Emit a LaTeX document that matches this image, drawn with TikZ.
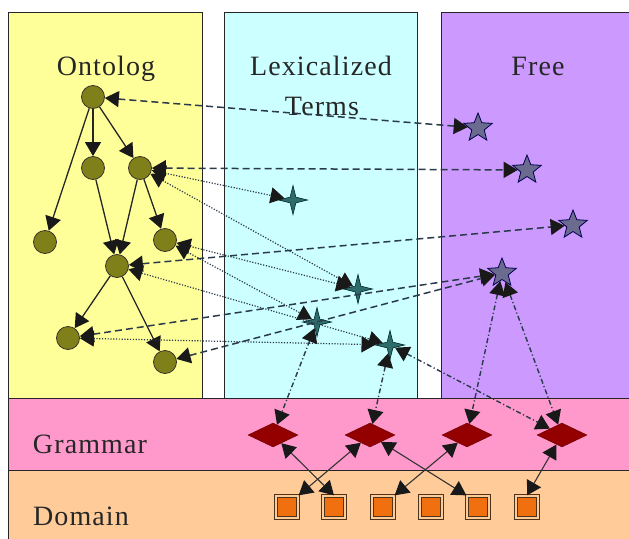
\documentclass[tikz,border=0pt]{standalone}
\usepackage{fontspec}
\newfontfamily\labelfont{Liberation Serif}[LetterSpace=4]
\usetikzlibrary{shapes.geometric,arrows.meta}

\definecolor{ontoyellow}{HTML}{FFFF99}
\definecolor{lexcyan}{HTML}{CCFFFF}
\definecolor{freepurple}{HTML}{CC99FF}
\definecolor{grampink}{HTML}{FF99CC}
\definecolor{dompeach}{HTML}{FFCC99}
\definecolor{conceptfill}{HTML}{80801A}
\definecolor{starfill}{HTML}{6B6B8F}
\definecolor{sparkfill}{HTML}{2E6B6B}
\definecolor{rulefill}{HTML}{940000}
\definecolor{itemfill}{HTML}{F07010}
\definecolor{linkgray}{HTML}{2A3A4A}

\begin{document}
\begin{tikzpicture}[x=1pt, y=-1pt,
  linktip/.tip={Triangle[length=14pt,width=16pt,color=black!90]},
  panel/.style={draw=black!85, line width=1pt},
  label/.style={anchor=base, font=\labelfont\fontsize{28}{30}\selectfont, text=black!85},
  concept/.style={circle, draw=black!80!olive, line width=0.8pt, fill=conceptfill, minimum size=23pt, inner sep=0pt},
  freestar/.style={star, star points=5, star point ratio=2.3, draw=black!70!blue, line width=0.8pt, fill=starfill, minimum size=30pt, inner sep=0pt},
  lexstar/.style={star, star points=4, star point ratio=3.6, draw=black!70!teal, line width=0.6pt, fill=sparkfill, minimum size=29pt, inner sep=0pt},
  rulebox/.style={diamond, aspect=2, draw=rulefill!70!black, fill=rulefill, minimum width=50pt, minimum height=24pt, inner sep=0pt},
  itembox/.style={rectangle, draw=black!60!brown, line width=1.3pt, double=dompeach, double distance=1.4pt, fill=itemfill, minimum size=22pt, inner sep=0pt},
  isa/.style={-linktip, line width=1.3pt, draw=black!85},
  freelink/.style={linktip-linktip, draw=linkgray, line width=1.5pt, dash pattern=on 7pt off 4pt},
  lexlink/.style={linktip-linktip, draw=linkgray, line width=1.2pt, dash pattern=on 1.2pt off 1.6pt},
  gramlink/.style={linktip-linktip, draw=linkgray, line width=1.4pt, dash pattern=on 5pt off 2.5pt on 1.2pt off 2.5pt},
  domlink/.style={linktip-linktip, draw=black!80, line width=1.1pt}]

  \useasboundingbox (0,0) rectangle (629,538);
  \fill[white] (0,0) rectangle (629,538);

  % columns and bands
  \filldraw[panel, fill=ontoyellow] (8,12) rectangle (202,398);
  \filldraw[panel, fill=lexcyan] (224,12) rectangle (417,398);
  \filldraw[panel, fill=freepurple] (441,12) rectangle (632,398);
  \filldraw[panel, fill=grampink] (8,398) rectangle (632,470);
  \filldraw[panel, fill=dompeach] (8,470) rectangle (632,541);

  \node[label] (ontotitle) at (106,75) {Ontolog};
  \node[label] (lextitle) at (321,75) {Lexicalized};
  \node[label] (lexsub) at (322,115) {Terms};
  \node[label] (freetitle) at (538,75) {Free};
  \node[label] (gramtitle) at (90,453) {Grammar};
  \node[label] (domtitle) at (81,525) {Domain};

  % ontology
  \node[concept] (c1) at (93,97) {};
  \node[concept] (c2) at (93,168) {};
  \node[concept] (c3) at (140,168) {};
  \node[concept] (c4) at (45,242) {};
  \node[concept] (c5) at (165,240) {};
  \node[concept] (c6) at (117,266) {};
  \node[concept] (c7) at (68,338) {};
  \node[concept] (c8) at (165,362) {};
  \foreach \a/\b in {c1/c2,c1/c3,c1/c4,c2/c6,c3/c5,c3/c6,c6/c7,c6/c8}
    \draw[isa] (\a) -- (\b);

  % lexicalized terms and free terms
  \node[lexstar] (t1) at (293,200) {};
  \node[lexstar] (t2) at (358,289) {};
  \node[lexstar] (t3) at (317,322) {};
  \node[lexstar] (t4) at (390,345) {};
  \node[freestar] (s1) at (478,128) {};
  \node[freestar] (s2) at (527,170) {};
  \node[freestar] (s3) at (573,225) {};
  \node[freestar] (s4) at (502,273) {};

  % grammar rules and domain items
  \node[rulebox] (d1) at (273,435) {};
  \node[rulebox] (d2) at (370,435) {};
  \node[rulebox] (d3) at (467,435) {};
  \node[rulebox] (d4) at (562,435) {};
  \foreach \i/\x in {1/287,2/334,3/383,4/431,5/478,6/527}
    \node[itembox] (q\i) at (\x,507) {};

  \foreach \a/\b in {c1/s1,c3/s2,c6/s3,c7/s4,c8/s4}
    \draw[freelink] (\a) -- (\b);
  \foreach \a/\b in {c3/t1,c3/t2,c5/t2,c5/t3,c6/t4,c7/t4}
    \draw[lexlink] (\a) -- (\b);
  \foreach \a/\b in {t3/d1,t4/d2,s4/d3,t4/d4,s4/d4}
    \draw[gramlink] (\a) -- (\b);
  \draw[domlink] (d1) -- (q2.north);
  \draw[domlink] (d2) -- (q1.north east);
  \draw[domlink] (d2) -- (q5.north west);
  \draw[domlink] (d3) -- (q3.north east);
  \draw[domlink] (d4) -- (q6.north);
\end{tikzpicture}
\end{document}
